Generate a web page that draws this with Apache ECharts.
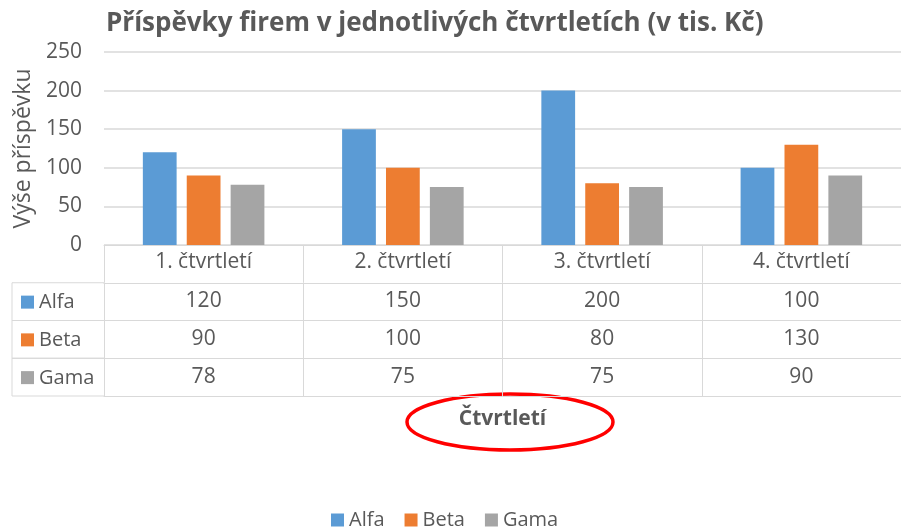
<!DOCTYPE html>
<html>
<head>
<meta charset="utf-8">
<script src="https://cdn.jsdelivr.net/npm/echarts@6/dist/echarts.min.js"></script>
<style>
  html, body { margin: 0; padding: 0; background: #fff; }
  #chart { width: 901px; height: 528px; }
</style>
</head>
<body>
<div id="chart"></div>
<script>
// Quarterly contributions of three companies (thousands CZK)
const categories = ['1. čtvrtletí', '2. čtvrtletí', '3. čtvrtletí', '4. čtvrtletí'];
const seriesNames = ['Alfa', 'Beta', 'Gama'];
const alfa = [120, 150, 200, 100];
const beta = [90, 100, 80, 130];
const gama = [78, 75, 75, 90];
const colors = ['#5b9bd5', '#ed7d31', '#a5a5a5'];
const yMin = 0, yMax = 250, yStep = 50;

const FONT = '"Open Sans"';
const TXT = '#595959';
const LINE = '#d9d9d9';
const FS = 21;

const gridLeft = 104, gridTop = 52, gridBottomY = 245, catWidth = 200;
const rowH = 37.75;
const tableLeft = 12;

const rows = [alfa, beta, gama];

const chart = echarts.init(document.getElementById('chart'));

// category axis plus one extra axis per table row, stacked below the plot
const xAxes = [{
  type: 'category',
  data: categories,
  gridIndex: 0,
  position: 'bottom',
  axisLine: { lineStyle: { color: LINE, width: 1 } },
  axisTick: { show: true, length: rowH, interval: 0, lineStyle: { color: LINE } },
  axisLabel: { color: TXT, fontFamily: FONT, fontSize: FS, margin: 7, interval: 0 },
  name: 'Čtvrtletí',
  nameLocation: 'middle',
  nameGap: 164,
  nameTextStyle: { color: TXT, fontFamily: FONT, fontSize: 21, fontWeight: 'bold' }
}];
rows.forEach((vals, i) => {
  xAxes.push({
    type: 'category',
    data: vals.map(String),
    gridIndex: 0,
    position: 'bottom',
    offset: rowH * (i + 1),
    axisLine: { lineStyle: { color: LINE, width: 1 } },
    axisTick: { show: true, length: rowH, interval: 0, lineStyle: { color: LINE } },
    axisLabel: { color: TXT, fontFamily: FONT, fontSize: FS, margin: 8, interval: 0 },
    splitLine: { show: false }
  });
});
// closing line under the last row
xAxes.push({
  type: 'category',
  data: categories,
  gridIndex: 0,
  position: 'bottom',
  offset: rowH * 4,
  axisLine: { lineStyle: { color: LINE, width: 1 } },
  axisTick: { show: false },
  axisLabel: { show: false }
});

// row headers of the table: coloured key + series name
const graphics = [];
for (let i = 0; i < 3; i++) {
  const yTop = gridBottomY + rowH * (i + 1);
  const yMid = yTop + rowH / 2;
  graphics.push({
    type: 'rect', shape: { x: 21, y: yMid - 6, width: 13, height: 13 },
    style: { fill: colors[i] }
  });
  graphics.push({
    type: 'text', x: 39, y: yMid + 1,
    style: { text: seriesNames[i], fill: TXT, font: '20px ' + FONT, verticalAlign: 'middle' }
  });
  graphics.push({
    type: 'line', shape: { x1: tableLeft, y1: yTop + rowH, x2: gridLeft, y2: yTop + rowH },
    style: { stroke: LINE, lineWidth: 1 }
  });
  graphics.push({
    type: 'line', shape: { x1: tableLeft, y1: yTop, x2: gridLeft, y2: yTop },
    style: { stroke: LINE, lineWidth: 1 }
  });
}
graphics.push({
  type: 'line',
  shape: { x1: tableLeft, y1: gridBottomY + rowH, x2: tableLeft, y2: gridBottomY + rowH * 4 },
  style: { stroke: LINE, lineWidth: 1 }
});
// red highlight ring around the axis title
graphics.push({
  type: 'ellipse',
  shape: { cx: 510, cy: 422, rx: 103, ry: 28 },
  style: { fill: 'none', stroke: '#ff0000', lineWidth: 3.5 }
});

chart.setOption({
  animation: false,
  color: colors,
  title: {
    text: 'Příspěvky firem v jednotlivých čtvrtletích (v tis. Kč)',
    left: 101, top: 6,
    textStyle: { color: TXT, fontFamily: FONT, fontSize: 26, fontWeight: 'bold' }
  },
  legend: {
    data: seriesNames,
    left: 326, top: 505,
    icon: 'rect', itemWidth: 13, itemHeight: 13, itemGap: 20,
    textStyle: { color: TXT, fontFamily: FONT, fontSize: 20 }
  },
  grid: { left: gridLeft, top: gridTop, width: catWidth * categories.length, height: gridBottomY - gridTop },
  xAxis: xAxes,
  yAxis: {
    type: 'value',
    min: yMin, max: yMax, interval: yStep,
    axisLine: { show: false },
    axisTick: { show: false },
    axisLabel: { color: TXT, fontFamily: FONT, fontSize: FS, margin: 22 },
    splitLine: { lineStyle: { color: LINE, width: 1.5 } },
    name: 'Výše příspěvku',
    nameLocation: 'middle',
    nameGap: 57,
    nameTextStyle: { color: TXT, fontFamily: FONT, fontSize: 23 }
  },
  series: rows.map((vals, i) => ({
    type: 'bar',
    name: seriesNames[i],
    data: vals,
    xAxisIndex: 0,
    barCategoryGap: '39%',
    barGap: '30%',
    itemStyle: { color: colors[i] }
  })),
  graphic: graphics
});
</script>
</body>
</html>
